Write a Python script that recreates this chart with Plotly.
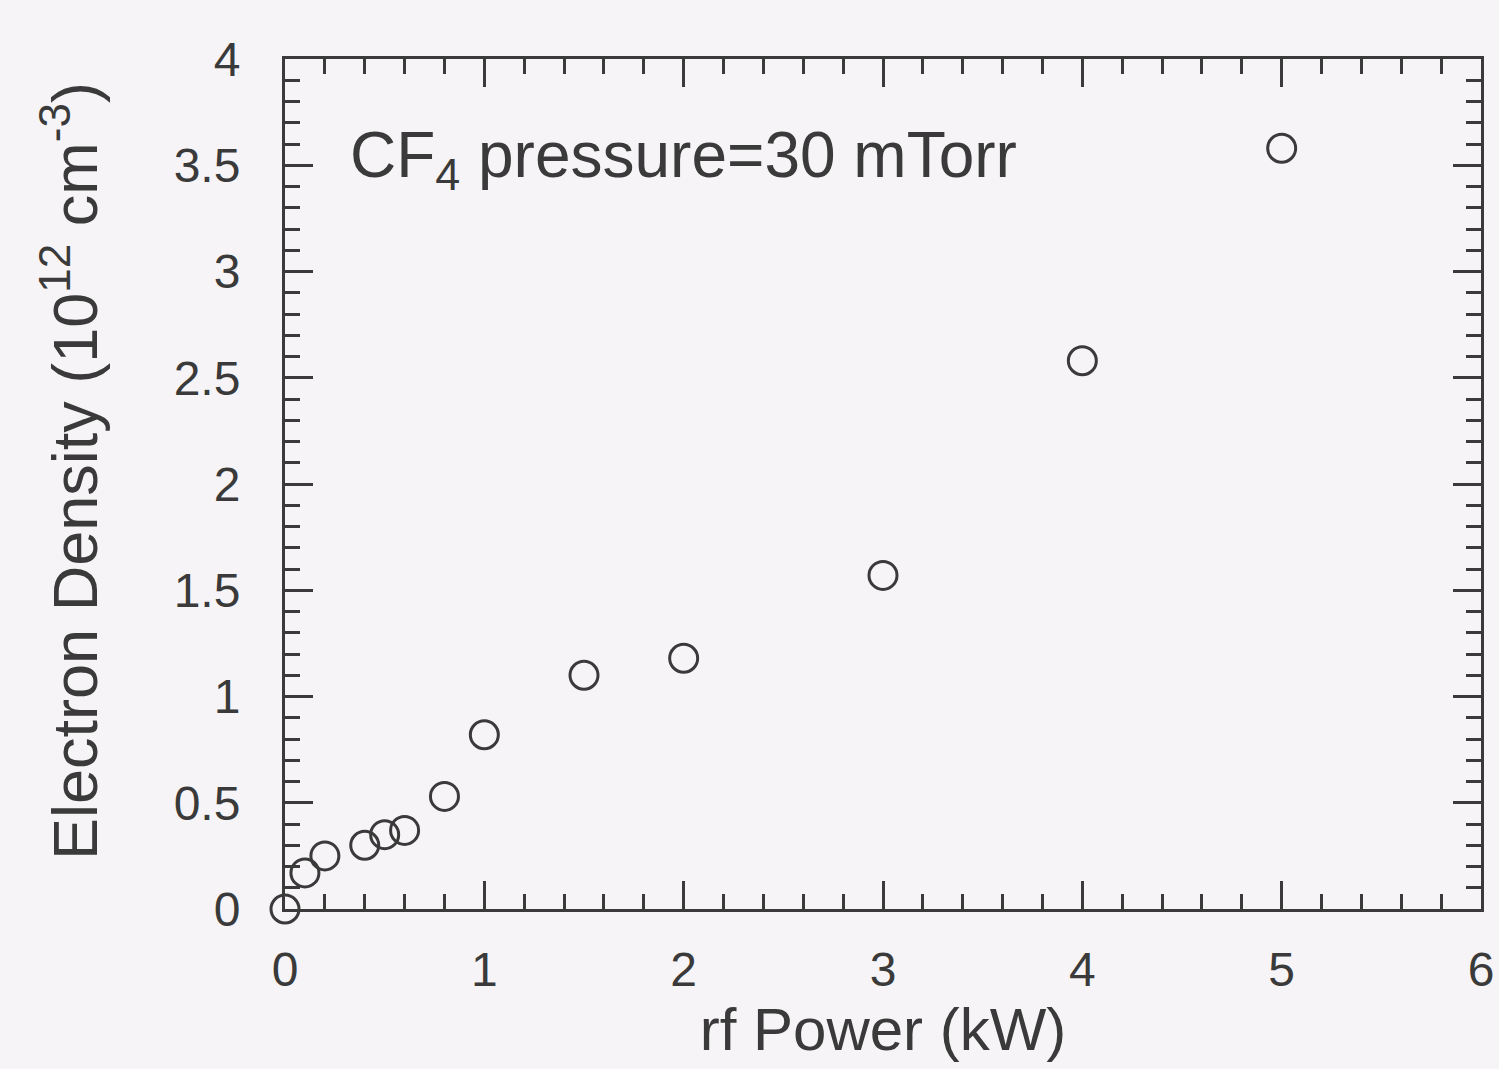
import plotly.graph_objects as go

rf_power_kw = [0.0, 0.1, 0.2, 0.4, 0.5, 0.6, 0.8, 1.0, 1.5, 2.0, 3.0, 4.0, 5.0]
electron_density = [0.0, 0.17, 0.25, 0.30, 0.35, 0.37, 0.53, 0.82, 1.10, 1.18, 1.57, 2.58, 3.58]

x_ticks = [0, 1, 2, 3, 4, 5, 6]
y_ticks = [0, 0.5, 1, 1.5, 2, 2.5, 3, 3.5, 4]
y_tick_labels = ["0", "0.5", "1", "1.5", "2", "2.5", "3", "3.5", "4"]

ink = "#3a3a3a"
font_family = "Liberation Sans, Arial, Helvetica, sans-serif"

fig = go.Figure()
fig.add_trace(go.Scatter(
    x=rf_power_kw, y=electron_density, mode="markers",
    marker=dict(symbol="circle-open", size=28, color=ink, line=dict(width=3, color=ink)),
    cliponaxis=False, showlegend=False,
))

axis_common = dict(
    showgrid=False, zeroline=False, showline=True, linecolor=ink, linewidth=3,
    mirror="allticks", ticks="inside", ticklen=28, tickwidth=3, tickcolor=ink,
    tickfont=dict(family=font_family, size=48, color=ink), automargin=False,
)

fig.update_xaxes(
    range=[0, 6], tickvals=x_ticks, ticktext=[str(v) for v in x_ticks],
    minor=dict(dtick=0.2, ticks="inside", ticklen=15, tickwidth=3, tickcolor=ink),
    ticklabelstandoff=16,
    title=dict(text="rf Power (kW)", font=dict(family=font_family, size=60, color=ink), standoff=8),
    **axis_common,
)
fig.update_yaxes(
    range=[0, 4], tickvals=y_ticks, ticktext=y_tick_labels,
    minor=dict(dtick=0.1, ticks="inside", ticklen=15, tickwidth=3, tickcolor=ink),
    ticklabelstandoff=32,
    **axis_common,
)

fig.add_annotation(
    x=-0.180, y=0.515, xref="paper", yref="paper", xanchor="center", yanchor="middle",
    text="Electron Density (10<sup>12</sup> cm<sup>-3</sup>)", textangle=-90, showarrow=False,
    font=dict(family=font_family, size=63, color=ink),
)

fig.add_annotation(
    x=0.053, y=0.882, xref="paper", yref="paper", xanchor="left", yanchor="middle",
    text="CF<sub>4</sub> pressure=30 mTorr", showarrow=False,
    font=dict(family=font_family, size=64, color=ink),
)

fig.update_layout(
    width=1499, height=1069,
    margin=dict(l=285, r=18, t=59, b=160),
    paper_bgcolor="#f6f4f6", plot_bgcolor="#f6f4f6",
)

fig.write_html("out.html")
